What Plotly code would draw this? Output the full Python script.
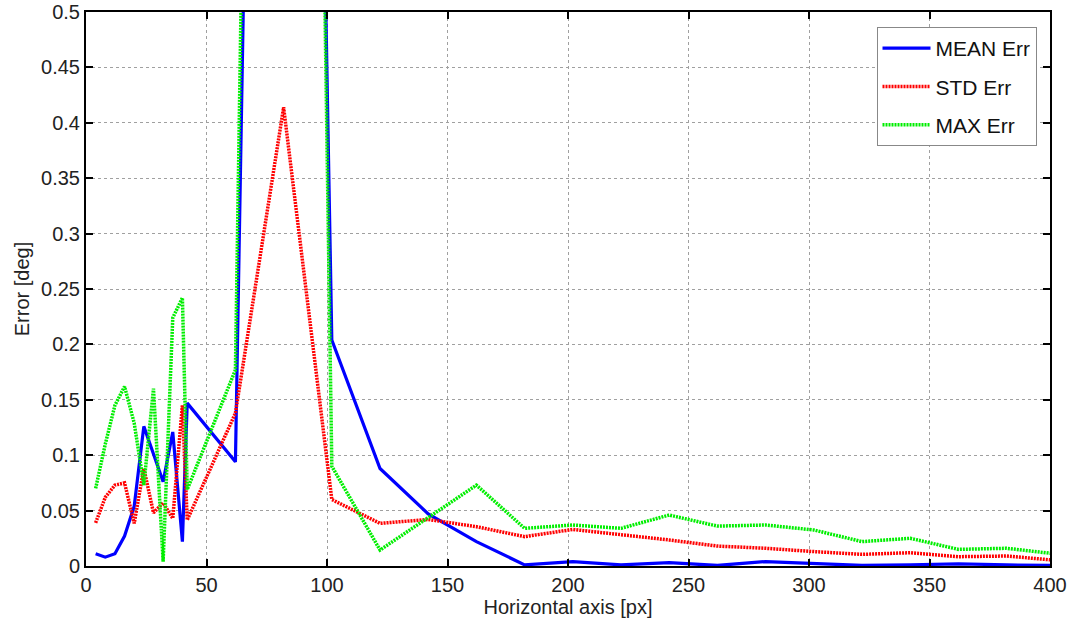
import plotly.graph_objects as go

x_vals = [4, 8, 12, 16, 20, 24, 28, 32, 36, 40, 42, 62, 82, 102, 122, 142, 162, 182,
          202, 222, 242, 262, 282, 302, 322, 342, 362, 382, 402]

mean_err = [0.011, 0.008, 0.011, 0.027, 0.054, 0.126, 0.101, 0.076, 0.121, 0.022, 0.147,
            0.094, 2.6, 0.204, 0.088, 0.047, 0.022, 0.001,
            0.004, 0.001, 0.003, 0.0005, 0.004, 0.002, 0.0005, 0.001, 0.002, 0.001, 0.0005]

std_err = [0.039, 0.062, 0.073, 0.075, 0.0385, 0.088, 0.048, 0.057, 0.043, 0.145, 0.0415,
           0.138, 0.414, 0.060, 0.0385, 0.042, 0.0355, 0.0265,
           0.033, 0.0286, 0.0235, 0.018, 0.016, 0.013, 0.0105, 0.012, 0.0084, 0.009, 0.0052]

max_err = [0.070, 0.110, 0.145, 0.162, 0.129, 0.073, 0.160, 0.004, 0.224, 0.242, 0.069,
           0.177, 3.0, 0.090, 0.0144, 0.044, 0.073, 0.034,
           0.037, 0.034, 0.046, 0.036, 0.037, 0.0325, 0.022, 0.025, 0.015, 0.016, 0.011]

x_ticks = [0, 50, 100, 150, 200, 250, 300, 350, 400]
y_ticks = [0, 0.05, 0.1, 0.15, 0.2, 0.25, 0.3, 0.35, 0.4, 0.45, 0.5]
y_tick_text = ["0", "0.05", "0.1", "0.15", "0.2", "0.25", "0.3", "0.35", "0.4", "0.45", "0.5"]

FONT = "Liberation Sans, Arial, Helvetica, sans-serif"

fig = go.Figure()
fig.add_trace(go.Scatter(x=x_vals, y=mean_err, mode="lines", name="MEAN Err",
                         legendgroup="a",
                         line=dict(color="#0000ff", width=3.2)))
fig.add_trace(go.Scatter(x=x_vals, y=std_err, mode="lines", name="STD Err",
                         legendgroup="b",
                         line=dict(color="#ff0000", width=3.5, dash="2px,1px")))
fig.add_trace(go.Scatter(x=x_vals, y=max_err, mode="lines", name="MAX Err",
                         legendgroup="c",
                         line=dict(color="#00ee00", width=3.5, dash="2px,1px")))

axis_common = dict(
    showline=True, linecolor="black", linewidth=2, mirror="ticks",
    ticks="inside", ticklen=7, tickwidth=2, tickcolor="black",
    showgrid=True, gridcolor="#a0a0a0", gridwidth=1, griddash="dot",
    zeroline=False, tickfont=dict(family=FONT, size=20, color="#222"),
    automargin=False,
)

fig.update_xaxes(range=[0, 400], tickvals=x_ticks,
                 title=dict(text="Horizontal axis [px]", font=dict(family=FONT, size=20, color="#222"),
                            standoff=4),
                 **axis_common)
fig.update_yaxes(range=[0, 0.5], tickvals=y_ticks, ticktext=y_tick_text,
                 title=dict(text="Error [deg]", font=dict(family=FONT, size=20, color="#222"),
                            standoff=6),
                 **axis_common)

fig.update_layout(
    width=1075, height=628,
    margin=dict(l=86, r=25, t=12, b=62, autoexpand=False),
    plot_bgcolor="white", paper_bgcolor="white",
    font=dict(family=FONT, size=20, color="#222"),
    legend=dict(x=0.986, y=0.973, xanchor="right", yanchor="top",
                bgcolor="white", bordercolor="#888", borderwidth=1,
                font=dict(family=FONT, size=21, color="#111"),
                tracegroupgap=8, itemwidth=48),
    showlegend=True,
)

fig.write_html("out.html",
               config={"displayModeBar": False},
               post_script="document.body.style.margin='0px';document.body.style.padding='0px';")
